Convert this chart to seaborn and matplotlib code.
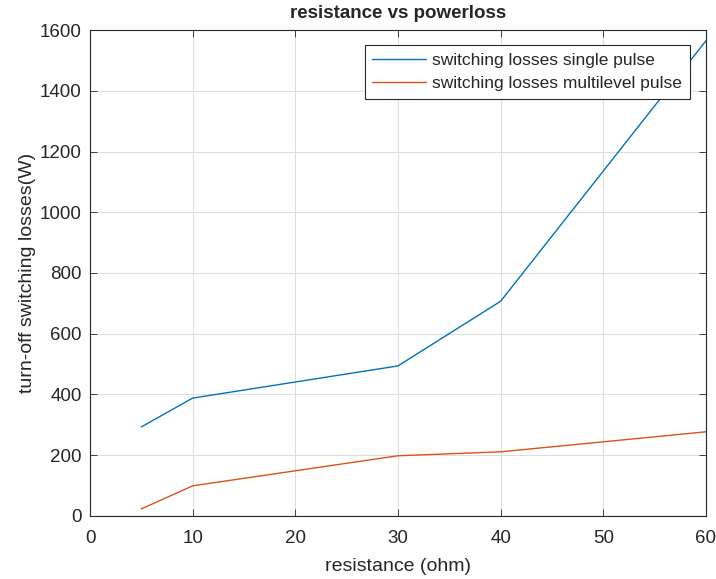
import pandas as pd
import matplotlib.pyplot as plt
import seaborn as sns

resistance = [5, 10, 30, 40, 60]
single_pulse = [293, 388, 494, 707, 1565]
multilevel_pulse = [23, 99, 198, 211, 277]
series_names = ['switching losses single pulse', 'switching losses multilevel pulse']


def main():
    df = pd.DataFrame({
        'resistance': resistance * 2,
        'loss': single_pulse + multilevel_pulse,
        'series': [series_names[0]] * len(resistance) + [series_names[1]] * len(resistance),
    })

    sns.set_style('whitegrid', {
        'grid.color': '#dedede',
        'axes.edgecolor': '#262626',
        'xtick.direction': 'in',
        'ytick.direction': 'in',
    })
    plt.rcParams['font.family'] = ['Liberation Sans', 'DejaVu Sans']

    fig = plt.figure(figsize=(7.16, 5.79), dpi=100)
    ax = fig.add_axes([0.1257, 0.109, 0.8603, 0.839])

    sns.lineplot(data=df, x='resistance', y='loss', hue='series',
                 palette=['#0072BD', '#D95319'], linewidth=1.0, ax=ax)

    ax.set_xlim(0, 60)
    ax.set_ylim(0, 1600)
    ax.set_xticks(range(0, 61, 10))
    ax.set_yticks(range(0, 1601, 200))
    ax.tick_params(labelsize=13.5, colors='#262626', length=5, width=0.6,
                   top=True, right=True, bottom=True, left=True)
    ax.tick_params(axis='x', pad=10)
    ax.tick_params(axis='y', pad=6)
    for s in ax.spines.values():
        s.set_linewidth(0.8)
        s.set_color('#262626')
    ax.grid(True, color='#dedede', linewidth=0.8)

    ax.set_title('resistance vs powerloss', fontsize=13.5, fontweight='bold', pad=9)
    ax.set_xlabel('resistance (ohm)', fontsize=14, color='#262626', labelpad=8)
    ax.set_ylabel('turn-off switching losses(W)', fontsize=14, color='#262626', labelpad=3)

    leg = ax.legend(loc='upper right', bbox_to_anchor=(0.974, 0.969), borderaxespad=0,
                    fontsize=12.5, frameon=True, fancybox=False, framealpha=1,
                    edgecolor='#262626', handlelength=3.1, handletextpad=0.35,
                    borderpad=0.45, labelspacing=0.45)
    leg.get_frame().set_linewidth(0.8)

    fig.savefig('out.png', dpi=100)


if __name__ == '__main__':
    main()
